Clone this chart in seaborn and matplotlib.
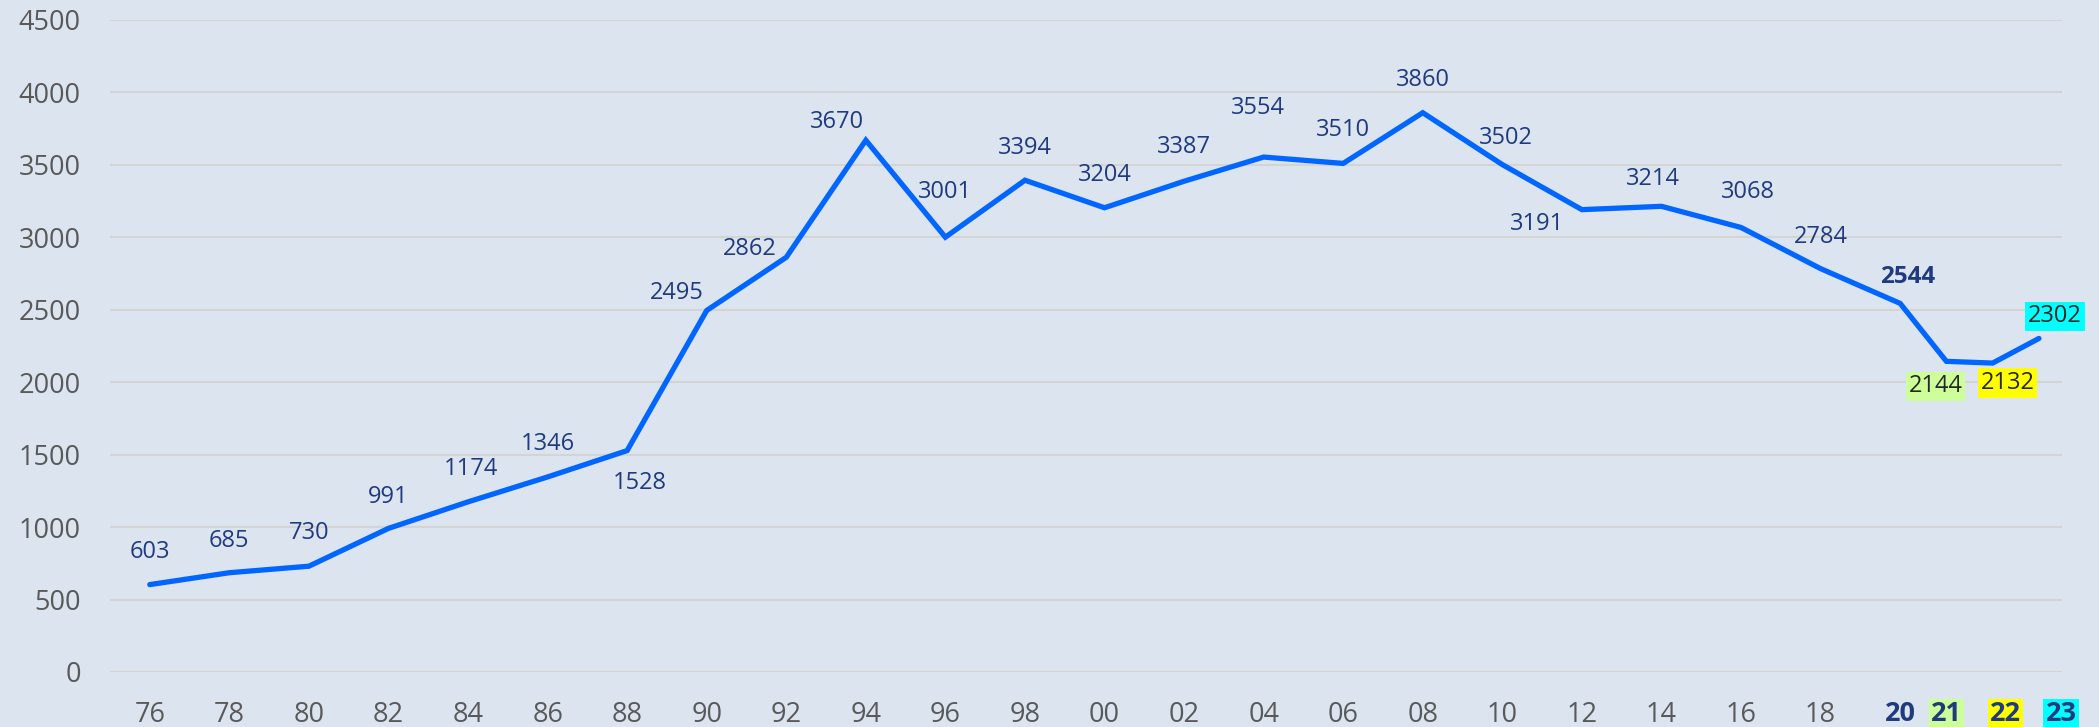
import numpy as np
import pandas as pd
import seaborn as sns
import matplotlib.pyplot as plt
from matplotlib.transforms import ScaledTranslation

# data
years = [1976, 1978, 1980, 1982, 1984, 1986, 1988, 1990, 1992, 1994, 1996, 1998,
         2000, 2002, 2004, 2006, 2008, 2010, 2012, 2014, 2016, 2018,
         2020, 2021, 2022, 2023]
values = [603, 685, 730, 991, 1174, 1346, 1528, 2495, 2862, 3670, 3001, 3394,
          3204, 3387, 3554, 3510, 3860, 3502, 3191, 3214, 3068, 2784,
          2544, 2144, 2132, 2302]
tick_labels = ['76', '78', '80', '82', '84', '86', '88', '90', '92', '94', '96', '98',
               '00', '02', '04', '06', '08', '10', '12', '14', '16', '18',
               '20', '21', '22', '23']

df = pd.DataFrame({'year': years, 'value': values})

# label offsets (pixels) relative to each point
offsets = [(0, 33), (0, 32), (0, 33), (0, 31), (3, 33), (0, 33), (13, -32),
           (-30, 17), (-37, 8), (-29, 18), (0, 45), (0, 32),
           (0, 33), (0, 34), (-6, 49), (0, 33), (0, 33), (4, 27), (-45, -14),
           (-9, 27), (7, 35), (0, 32),
           (7, 26), (-11, -25), (15, -20), (16, 22)]
highlight = {2021: '#CCFF99', 2022: '#FFFF00', 2023: '#00FFFF'}

bg = '#DCE5EF'
navy = '#1F3A7E'
sns.set_theme(style='whitegrid')
plt.rcParams['font.family'] = ['Open Sans', 'DejaVu Sans']

fig = plt.figure(figsize=(20.99, 7.27), dpi=100, facecolor=bg)
ax = fig.add_axes([0.0524, 0.0757, 0.93, 0.8968])
ax.set_facecolor(bg)

# recent single years are drawn a bit wider apart than the 2-year steps
k = 1.163
def fwd(x):
    x = np.asarray(x, float)
    return np.where(x <= 2020, x, 2020 + (x - 2020) * k)
def inv(y):
    y = np.asarray(y, float)
    return np.where(y <= 2020, y, 2020 + (y - 2020) / k)
ax.set_xscale('function', functions=(fwd, inv))

sns.lineplot(data=df, x='year', y='value', ax=ax, color='#0066FF', linewidth=3.8,
             solid_capstyle='round', solid_joinstyle='miter', zorder=3)

for (yr, v, (dx, dy)) in zip(years, values, offsets):
    kw = dict(fontsize=17, color=navy)
    if yr == 2020:
        kw['fontweight'] = 'bold'
        kw['fontsize'] = 17.5
    if yr in highlight:
        kw['color'] = '#262626'
        kw['bbox'] = dict(boxstyle='square,pad=0.12', fc=highlight[yr], ec='none')
    ax.annotate(str(v), (yr, v), xytext=(dx, dy), textcoords='offset pixels',
                ha='center', va='center', annotation_clip=False, zorder=4, **kw)

ax.set_xlim(1975.0, 2023.5)
ax.set_ylim(0, 4500)
ax.set_yticks(range(0, 4501, 500))
ax.set_xticks(years)
ax.set_xticklabels(tick_labels)
ax.set_xlabel('')
ax.set_ylabel('')
ax.grid(axis='y', color='#D4D4D4', linewidth=1.5)
ax.grid(axis='x', visible=False)
for s in ax.spines.values():
    s.set_visible(False)
ax.tick_params(axis='y', length=0, pad=21, labelsize=19.5, labelcolor='#595959')
ax.tick_params(axis='x', length=0, pad=21, labelsize=19.5, labelcolor='#595959')

shift = {2022: 13, 2023: 22}
for yr, lab in zip(years, ax.get_xticklabels()):
    if yr >= 2020:
        lab.set_fontweight('bold')
        lab.set_color(navy)
    if yr in highlight:
        lab.set_bbox(dict(boxstyle='square,pad=0.08', fc=highlight[yr], ec='none'))
    if yr in shift:
        lab.set_transform(lab.get_transform() + ScaledTranslation(shift[yr] / 100, 0, fig.dpi_scale_trans))

fig.savefig('out.png', dpi=100, facecolor=bg)
